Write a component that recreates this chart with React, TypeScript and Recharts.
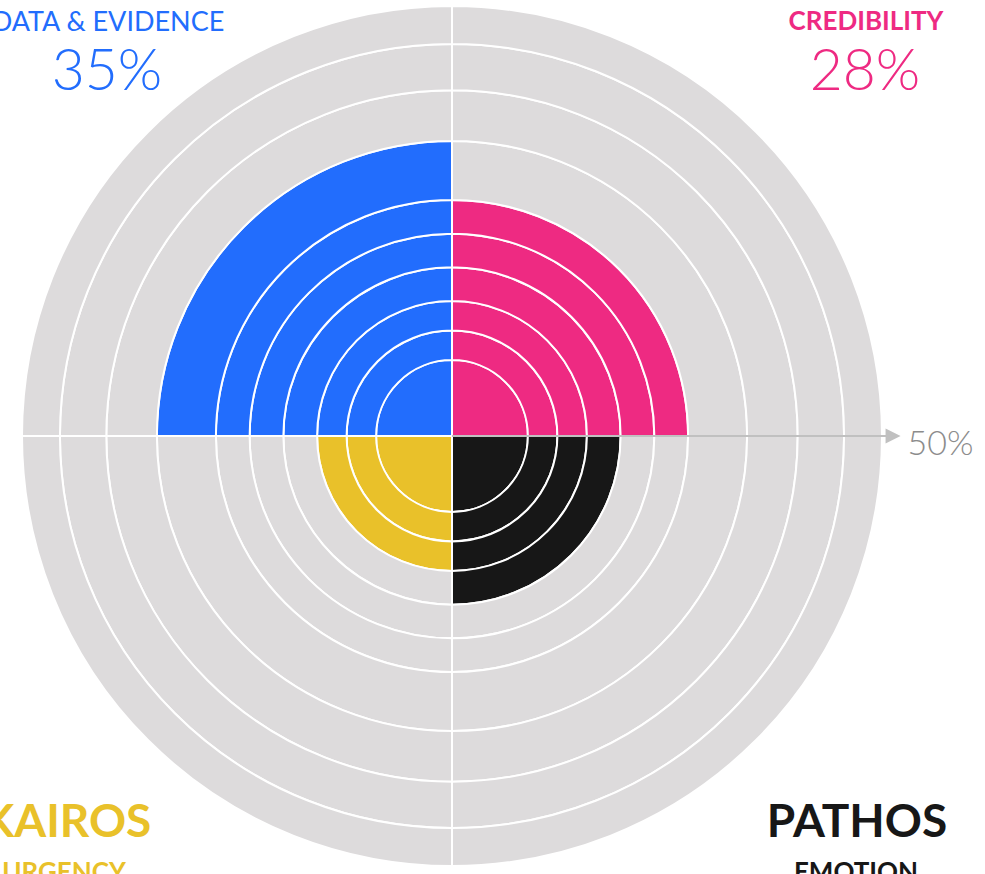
import React from 'react';
import { RadialBarChart, RadialBar, PolarAngleAxis, PolarRadiusAxis, Cell } from 'recharts';

// Categories in the chart's angular order
const categories = ['PATHOS', 'CREDIBILITY', 'DATA & EVIDENCE', 'KAIROS'];
const subtitles = ['EMOTION', '', '', 'URGENCY'];
const values = [20, 28, 35, 16];
const colors = ['#171717', '#ee2a82', '#226dfd', '#e9c12a'];
const ringLevels = [9, 12.5, 16, 20, 24, 28, 35, 41, 46.5, 51];
const axisTicks = [50];
const axisTickLabels = ['50%'];
const GRAY = '#dddbdc';

const data = categories.map((name, ci) => {
  const row: Record<string, any> = { name, value: values[ci] };
  ringLevels.forEach((lvl, i) => {
    row['s' + i] = lvl - (i ? ringLevels[i - 1] : 0);
  });
  return row;
});

const headFont = "Lato, 'Open Sans', sans-serif";

const chartProps = {
  width: 985,
  height: 874,
  cx: 452,
  cy: 436,
  innerRadius: 0,
  outerRadius: 430,
  data,
  layout: 'centric' as const,
  startAngle: 0,
  endAngle: 360,
  barCategoryGap: 0,
  barGap: 0,
  margin: { top: 0, right: 0, bottom: 0, left: 0 },
};

const renderTick = (props: any) => {
  const { x, y, index } = props;
  const c = typeof props.cx === 'number' ? props.cx : chartProps.cx;
  return (
    <g>
      <line x1={c} y1={y} x2={x + 13} y2={y} stroke="#c0c0c0" strokeWidth={2} />
      <polygon points={`${x + 12},${y - 7.5} ${x + 27},${y} ${x + 12},${y + 7.5}`} fill="#c0c0c0" />
      <text x={x + 34} y={y + 19} fill="#8c8c8c" fontSize={34} fontFamily="Lato, 'Open Sans', sans-serif" fontWeight={300}>
        {axisTickLabels[index] ?? axisTickLabels[0]}
      </text>
    </g>
  );
};

export default function App() {
  return (
    <div style={{ position: 'absolute', left: 0, top: 0, width: 985, height: 874, overflow: 'hidden', background: '#fff' }}>
      <RadialBarChart {...chartProps}>
        <PolarAngleAxis type="category" dataKey="name" tick={false} axisLine={false} tickLine={false} />
        <PolarRadiusAxis type="number" domain={[0, 51]} angle={0} tick={false} tickLine={false} axisLine={false} />
        {ringLevels.map((lvl, i) => (
          <RadialBar
            key={i}
            dataKey={'s' + i}
            stackId="a"
            isAnimationActive={false}
            stroke="#ffffff"
            strokeWidth={2}
          >
            {data.map((_, ci) => (
              <Cell key={ci} fill={lvl <= values[ci] ? colors[ci] : GRAY} />
            ))}
          </RadialBar>
        ))}
      </RadialBarChart>
      <div style={{ position: 'absolute', left: 0, top: 0, pointerEvents: 'none' }}>
        <RadialBarChart {...chartProps}>
          <PolarAngleAxis type="category" dataKey="name" tick={false} axisLine={false} tickLine={false} />
          <PolarRadiusAxis
            type="number"
            domain={[0, 51]}
            allowDataOverflow
            angle={0}
            ticks={axisTicks}
            tick={renderTick}
            tickLine={false}
            axisLine={false}
          />
          <RadialBar dataKey="value" isAnimationActive={false} fill="none" stroke="none" />
        </RadialBarChart>
      </div>
      <svg width={985} height={874} style={{ position: 'absolute', left: 0, top: 0, pointerEvents: 'none' }}>
        <text x={108} y={31} textAnchor="middle" fill={colors[2]} fontSize={27} fontFamily={headFont}>{categories[2]}</text>
        <text x={107} y={90} textAnchor="middle" fill={colors[2]} fontSize={57} fontWeight={300} fontFamily={headFont}>{values[2]}%</text>
        <text x={866} y={30} textAnchor="middle" fill={colors[1]} fontSize={26} fontWeight={700} fontFamily={headFont}>{categories[1]}</text>
        <text x={865} y={90} textAnchor="middle" fill={colors[1]} fontSize={57} fontWeight={300} fontFamily={headFont}>{values[1]}%</text>
        <text x={67} y={837} textAnchor="middle" fill={colors[3]} fontSize={46} fontWeight={700} fontFamily={headFont}>{categories[3]}</text>
        <text x={64} y={881} textAnchor="middle" fill={colors[3]} fontSize={26} fontWeight={700} fontFamily={headFont}>{subtitles[3]}</text>
        <text x={857} y={837} textAnchor="middle" fill={colors[0]} fontSize={46} fontWeight={700} fontFamily={headFont}>{categories[0]}</text>
        <text x={856} y={881} textAnchor="middle" fill={colors[0]} fontSize={26} fontWeight={700} fontFamily={headFont}>{subtitles[0]}</text>
      </svg>
    </div>
  );
}
